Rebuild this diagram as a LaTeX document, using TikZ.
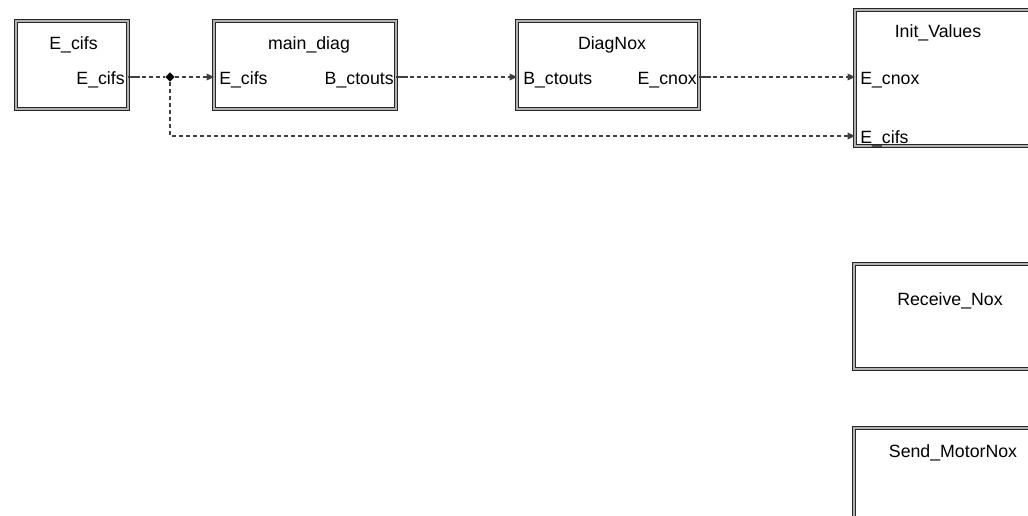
\documentclass[tikz,border=0pt]{standalone}
\usepackage{fontspec}
\setmainfont{Liberation Sans}
\usetikzlibrary{arrows.meta,positioning,shapes.geometric}

\begin{document}
\begin{tikzpicture}[x=0.75pt,y=-0.75pt,font=\fontsize{13.3}{16}\selectfont,
  blk/.style={draw=black!85,double=gray!60,double distance=1.6pt,line width=0.7pt,
    anchor=north west,inner sep=0,outer sep=0},
  ttl/.style={anchor=base,inner sep=0},
  iport/.style={anchor=west,inner sep=0,text height=10.5pt,text depth=0pt},
  oport/.style={anchor=east,inner sep=0,text height=10.5pt,text depth=0pt},
  sig/.style={black!75,line width=0.9pt,dash pattern=on 3pt off 2.25pt,
    -{Triangle[length=5.5pt,width=5pt]}},
  stub/.style={black!75,line width=0.9pt}]
\clip (0,0) rectangle (1028,515);
% blocks of the top row
\node[blk,minimum width=84pt,minimum height=66pt] (src) at (16,21){};
\node[blk,minimum width=136.5pt,minimum height=66pt] (maindiag) at (214,21){};
\node[blk,minimum width=136.5pt,minimum height=66pt] (diagnox) at (517,21){};
% blocks on the right edge (cut off by the page)
\node[blk,minimum width=150pt,minimum height=102pt] (initvals) at (855,10){};
\node[blk,minimum width=150pt,minimum height=78.75pt] (recvnox) at (854,264){};
\node[blk,minimum width=150pt,minimum height=90pt] (sendnox) at (854,428){};
% titles
\node[ttl] (srct) at (73.5,49){E\_cifs};
\node[ttl] (maindiagt) at (309,49){main\_diag};
\node[ttl] (diagnoxt) at (612,49){DiagNox};
\node[ttl] (initvalst) at (938,37){Init\_Values};
\node[ttl] (recvnoxt) at (950,305){Receive\_Nox};
\node[ttl] (sendnoxt) at (953,457){Send\_MotorNox};
% ports
\node[oport] (srco) at (125,77){E\_cifs};
\node[iport] (mdin) at (219,77){E\_cifs};
\node[oport] (mdout) at (394,77){B\_ctouts};
\node[iport] (dgin) at (523,77){B\_ctouts};
\node[oport] (dgout) at (697,77){E\_cnox};
\node[iport] (ivcnox) at (860,77){E\_cnox};
\node[iport] (ivcifs) at (860,136){E\_cifs};
% junction
\node[diamond,fill=black,inner sep=0,minimum size=7pt] (jn) at (170,77){};
% signals
\foreach \a in {src,maindiag,diagnox}{
  \draw[stub] (\a.east |- mdin) -- ++(12,0);
}
\draw[sig,-] (src.east |- srco) -- (jn);
\draw[sig] (jn) -- (maindiag.west |- mdin);
\draw[sig] (jn) |- (initvals.west |- ivcifs);
\draw[sig] (maindiag.east |- mdout) -- (diagnox.west |- dgin);
\draw[sig] (diagnox.east |- dgout) -- (initvals.west |- ivcnox);
\end{tikzpicture}
\end{document}
